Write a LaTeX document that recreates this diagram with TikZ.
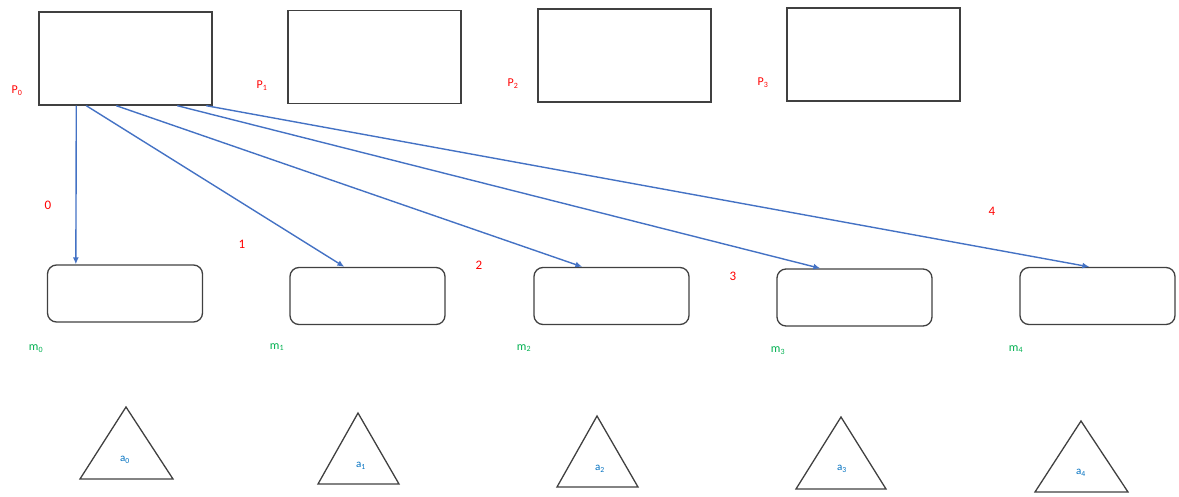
\documentclass[tikz,border=0pt]{standalone}
\usepackage{fontspec}
\setmainfont{Carlito}
\usetikzlibrary{calc,arrows.meta}
\definecolor{arrowblue}{RGB}{68,114,196}
\definecolor{lblred}{RGB}{255,0,0}
\definecolor{lblgreen}{RGB}{0,176,80}
\definecolor{lblblue}{RGB}{0,112,192}
\definecolor{edge}{RGB}{64,64,64}
\tikzset{
  pbox/.style={draw=edge, line width=1.4pt, minimum width=173pt, minimum height=93pt, inner sep=0pt},
  mbox/.style={draw=edge, line width=1.3pt, rounded corners=9pt, minimum width=155pt, minimum height=57pt, inner sep=0pt},
  tri/.style={draw=edge, line width=1.3pt},
  plbl/.style={text=lblred, font=\fontsize{12}{14}\selectfont, inner sep=0pt},
  mlbl/.style={text=lblgreen, font=\fontsize{12}{14}\selectfont, inner sep=0pt},
  albl/.style={text=lblblue, font=\fontsize{11}{13}\selectfont, inner sep=0pt},
  nlbl/.style={text=lblred, font=\fontsize{13}{15}\selectfont, inner sep=0pt},
  conn/.style={draw=arrowblue, line width=1.4pt, -{Latex[length=7pt,width=6pt]}},
}
\begin{document}
\begin{tikzpicture}[x=1pt,y=-1pt]
\useasboundingbox (0,0) rectangle (1179,496);
% P boxes
\node[pbox] (P0) at (125.5,58.5) {};
\node[pbox] (P1) at (374.5,57) {};
\node[pbox] (P2) at (624.5,55.5) {};
\node[pbox] (P3) at (873.5,54.5) {};
\node[plbl] (lP0) at (17,91) {P\textsubscript{0}};
\node[plbl] (lP1) at (262,86) {P\textsubscript{1}};
\node[plbl] (lP2) at (513,84) {P\textsubscript{2}};
\node[plbl] (lP3) at (763,83) {P\textsubscript{3}};
% m boxes
\node[mbox] (m0) at (125,293.5) {};
\node[mbox] (m1) at (367.5,296) {};
\node[mbox] (m2) at (611.5,296) {};
\node[mbox] (m3) at (854.5,297.5) {};
\node[mbox] (m4) at (1097.5,296) {};
\node[mlbl] (lm0) at (36,349) {m\textsubscript{0}};
\node[mlbl] (lm1) at (277,347) {m\textsubscript{1}};
\node[mlbl] (lm2) at (524,348) {m\textsubscript{2}};
\node[mlbl] (lm3) at (778,351) {m\textsubscript{3}};
\node[mlbl] (lm4) at (1016,349) {m\textsubscript{4}};
% triangles
\draw[tri] (126,407) -- (173,479) -- (80,479) -- cycle;
\draw[tri] (358,413) -- (399,484) -- (318,484) -- cycle;
\draw[tri] (597,416) -- (638,487) -- (557,487) -- cycle;
\draw[tri] (841,417) -- (886,489) -- (796,489) -- cycle;
\draw[tri] (1081,421) -- (1128,492) -- (1035,492) -- cycle;
\node[albl] (a0) at (125,460) {a\textsubscript{0}};
\node[albl] (a1) at (361,466) {a\textsubscript{1}};
\node[albl] (a2) at (600,469) {a\textsubscript{2}};
\node[albl] (a3) at (842,469) {a\textsubscript{3}};
\node[albl] (a4) at (1081,473) {a\textsubscript{4}};
% connectors
\draw[conn] ($(P0.south west)+(38,0)$) -- ($(m0.north west)+(29,0)$);
\draw[conn] ($(P0.south west)+(48,0)$) -- ($(m1.north west)+(55,0)$);
\draw[conn] ($(P0.south west)+(78,0)$) -- ($(m2.north west)+(49,0)$);
\draw[conn] ($(P0.south west)+(139,0)$) -- ($(m3.north west)+(44,0)$);
\draw[conn] ($(P0.south west)+(168,0)$) -- ($(m4.north west)+(70,0)$);
\node[nlbl] (n0) at (48,205) {0};
\node[nlbl] (n1) at (242,244) {1};
\node[nlbl] (n2) at (479,265) {2};
\node[nlbl] (n3) at (733,276) {3};
\node[nlbl] (n4) at (992,211) {4};
\end{tikzpicture}
\end{document}
